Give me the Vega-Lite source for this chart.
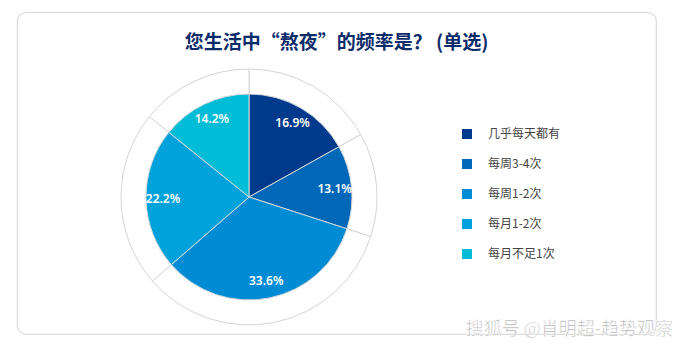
{
  "$schema": "https://vega.github.io/schema/vega-lite/v6.json",
  "width": 690,
  "height": 357,
  "autosize": {"type": "fit", "contains": "padding"},
  "padding": {"left": 17, "top": 12, "right": 17, "bottom": 18},
  "background": "white",
  "config": {
    "view": {"stroke": "#dcdcdc", "strokeWidth": 1.2, "cornerRadius": 9},
    "font": "Noto Sans CJK SC"
  },
  "title": {
    "text": "您生活中“熬夜”的频率是？ (单选)",
    "anchor": "middle",
    "frame": "group",
    "offset": -41,
    "fontSize": 19,
    "fontWeight": "bold",
    "color": "#0d2c6c",
    "font": "Noto Sans CJK SC"
  },
  "data": {
    "values": [
      {"category": "几乎每天都有", "value": 16.9, "order": 1, "label": "16.9%"},
      {"category": "每周3-4次", "value": 13.1, "order": 2, "label": "13.1%"},
      {"category": "每周1-2次", "value": 33.6, "order": 3, "label": "33.6%"},
      {"category": "每月1-2次", "value": 22.2, "order": 4, "label": "22.2%"},
      {"category": "每月不足1次", "value": 14.2, "order": 5, "label": "14.2%"}
    ]
  },
  "encoding": {
    "theta": {"field": "value", "type": "quantitative", "stack": true},
    "order": {"field": "order", "type": "quantitative"},
    "x": {"value": 232},
    "y": {"value": 185}
  },
  "layer": [
    {
      "mark": {"type": "arc", "outerRadius": 128, "fill": "white", "stroke": "#d4d4d4", "strokeWidth": 1}
    },
    {
      "mark": {"type": "arc", "outerRadius": 103, "stroke": "#d8d8d8", "strokeWidth": 1},
      "encoding": {
        "color": {
          "field": "category",
          "type": "nominal",
          "sort": ["几乎每天都有", "每周3-4次", "每周1-2次", "每月1-2次", "每月不足1次"],
          "scale": {
            "domain": ["几乎每天都有", "每周3-4次", "每周1-2次", "每月1-2次", "每月不足1次"],
            "range": ["#003a8c", "#0068b7", "#008cd4", "#00a2dc", "#00bcd6"]
          },
          "legend": {
            "orient": "none",
            "legendX": 444,
            "legendY": 116,
            "title": null,
            "symbolType": "square",
            "symbolSize": 100,
            "symbolStrokeWidth": 0,
            "labelFontSize": 12,
            "labelColor": "#444444",
            "labelOffset": 15,
            "rowPadding": 18,
            "padding": 0,
            "labelFont": "Noto Sans CJK SC"
          }
        }
      }
    },
    {
      "mark": {"type": "text", "radius": 86, "fontSize": 12, "fontWeight": 600, "color": "white", "font": "Noto Sans"},
      "encoding": {
        "text": {"field": "label", "type": "nominal"}
      }
    },
    {
      "data": {"values": [{"wm": "搜狐号 @肖明超-趋势观察"}]},
      "mark": {"type": "text", "align": "right", "baseline": "alphabetic", "fontSize": 18, "color": "#b0b0b0", "stroke": "white", "strokeWidth": 0.6, "font": "Noto Sans CJK SC"},
      "encoding": {
        "theta": null,
        "order": null,
        "text": {"field": "wm", "type": "nominal"},
        "x": {"value": {"expr": "width + 17"}},
        "y": {"value": {"expr": "height + 1"}}
      }
    }
  ]
}
